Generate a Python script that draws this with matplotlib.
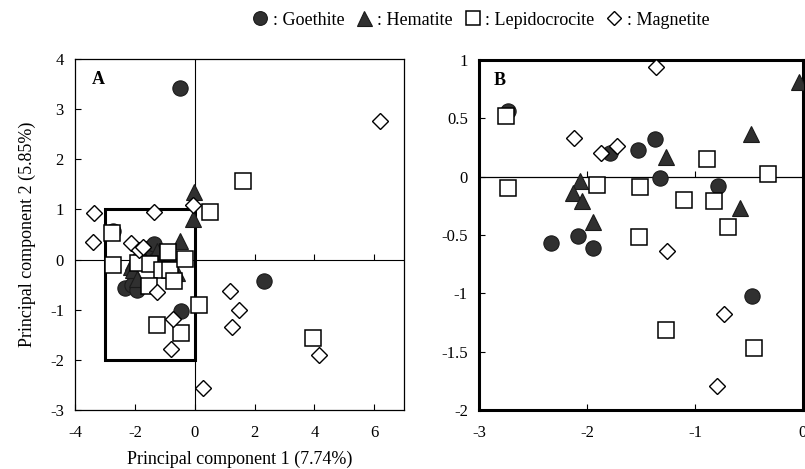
import numpy as np
import matplotlib.pyplot as plt
from matplotlib.lines import Line2D
from matplotlib.patches import Rectangle

plt.rcParams['font.family'] = ['Liberation Serif', 'DejaVu Serif']
plt.rcParams['axes.unicode_minus'] = False

# points inside the zoom box (-3..0, -2..1), shown in both panels
goethite_x = [-2.73, -1.79, -1.53, -1.37, -1.32, -0.79, -2.33, -2.08, -1.94, -0.47]
goethite_y = [0.56, 0.20, 0.23, 0.32, -0.01, -0.08, -0.57, -0.51, -0.61, -1.02]
hematite_x = [-0.04, -0.48, -1.27, -2.06, -2.13, -2.05, -1.94, -0.58]
hematite_y = [0.81, 0.37, 0.17, -0.04, -0.14, -0.21, -0.39, -0.27]
lepido_x = [-2.75, -2.73, -1.91, -1.51, -1.10, -0.89, -0.82, -0.69, -0.32, -1.52, -1.27, -0.45]
lepido_y = [0.52, -0.10, -0.07, -0.09, -0.20, 0.15, -0.21, -0.43, 0.02, -0.52, -1.31, -1.47]
magnet_x = [-1.36, -2.12, -1.87, -1.72, -1.26, -0.73, -0.80]
magnet_y = [0.94, 0.33, 0.20, 0.26, -0.64, -1.18, -1.79]

# points outside the box, only in panel A
goethite_out_x = [-0.50, 2.30]
goethite_out_y = [3.42, -0.43]
hematite_out_x = [-0.02]
hematite_out_y = [1.35]
lepido_out_x = [1.63, 0.52, 0.14, 3.94]
lepido_out_y = [1.57, 0.95, -0.90, -1.56]
magnet_out_x = [6.19, -3.37, -3.40, -0.05, 1.18, 1.48, 1.26, 0.29, 4.16]
magnet_out_y = [2.77, 0.93, 0.35, 1.08, -0.63, -1.00, -1.34, -2.56, -1.91]

dark = '#303030'
styles = {
    'Goethite': dict(marker='o', ms=11, mfc=dark, mec='#1a1a1a', mew=0.8),
    'Hematite': dict(marker='^', ms=12, mfc=dark, mec='#1a1a1a', mew=0.8),
    'Lepidocrocite': dict(marker='s', ms=11, mfc='white', mec='black', mew=1.1),
    'Magnetite': dict(marker='D', ms=8.3, mfc='white', mec='black', mew=1.0),
}

fig = plt.figure(figsize=(8.05, 4.69), dpi=100)
axA = fig.add_axes([0.0932, 0.1258, 0.4088, 0.7484])
axB = fig.add_axes([0.595, 0.1258, 0.4025, 0.746])


def draw(ax, inside_only):
    series = [
        ('Goethite', goethite_x, goethite_y, goethite_out_x, goethite_out_y),
        ('Hematite', hematite_x, hematite_y, hematite_out_x, hematite_out_y),
        ('Lepidocrocite', lepido_x, lepido_y, lepido_out_x, lepido_out_y),
        ('Magnetite', magnet_x, magnet_y, magnet_out_x, magnet_out_y),
    ]
    for name, x, y, xo, yo in series:
        if not inside_only:
            x = x + xo
            y = y + yo
        ax.plot(x, y, ls='none', clip_on=inside_only, zorder=3, **styles[name])


# panel A
draw(axA, False)
axA.set_xlim(-4, 7)
axA.set_ylim(-3, 4)
axA.set_xticks([-4, -2, 0, 2, 4, 6])
axA.set_yticks(range(-3, 5))
axA.axhline(0, color='black', lw=0.8, zorder=1)
axA.axvline(0, color='black', lw=0.8, zorder=1)
axA.plot(axA.get_xticks()[1:], np.zeros(5), ls='none', marker=2, ms=4, color='black', mew=0.8)
axA.add_patch(Rectangle((-3, -2), 3, 3, fill=False, lw=2.2, ec='black', zorder=2))
axA.text(0.05, 0.965, 'A', transform=axA.transAxes, ha='left', va='top',
         fontsize=13, fontweight='bold')
for s in axA.spines.values():
    s.set_linewidth(0.9)
axA.set_xlabel('Principal component 1 (7.74%)', fontsize=13, labelpad=7)
axA.set_ylabel('Principal component 2 (5.85%)', fontsize=13, labelpad=10)

# panel B
draw(axB, True)
axB.set_xlim(-3, 0)
axB.set_ylim(-2, 1)
axB.set_xticks([-3, -2, -1, 0])
axB.set_yticks([-2, -1.5, -1, -0.5, 0, 0.5, 1])
axB.set_yticklabels(['-2', '-1.5', '-1', '-0.5', '0', '0.5', '1'])
axB.axhline(0, color='black', lw=0.9, zorder=1)
axB.plot(axB.get_xticks()[1:3], np.zeros(2), ls='none', marker=2, ms=4, color='black', mew=0.8)
axB.text(0.045, 0.965, 'B', transform=axB.transAxes, ha='left', va='top',
         fontsize=13, fontweight='bold')
for s in axB.spines.values():
    s.set_linewidth(2.2)

for ax in (axA, axB):
    ax.tick_params(direction='in', length=4, width=0.8, labelsize=12, pad=8)
    ax.tick_params(axis='x', pad=11)

handles = [Line2D([], [], ls='none', **dict(styles[n], ms=styles[n]['ms'] * 0.9))
           for n in styles]
fig.legend(handles, [': ' + n for n in styles], loc='upper center',
           bbox_to_anchor=(0.598, 1.01), ncol=4, frameon=False, fontsize=13,
           handlelength=0.8, handletextpad=0.3, columnspacing=0.7)

fig.savefig('out.png', dpi=100)
